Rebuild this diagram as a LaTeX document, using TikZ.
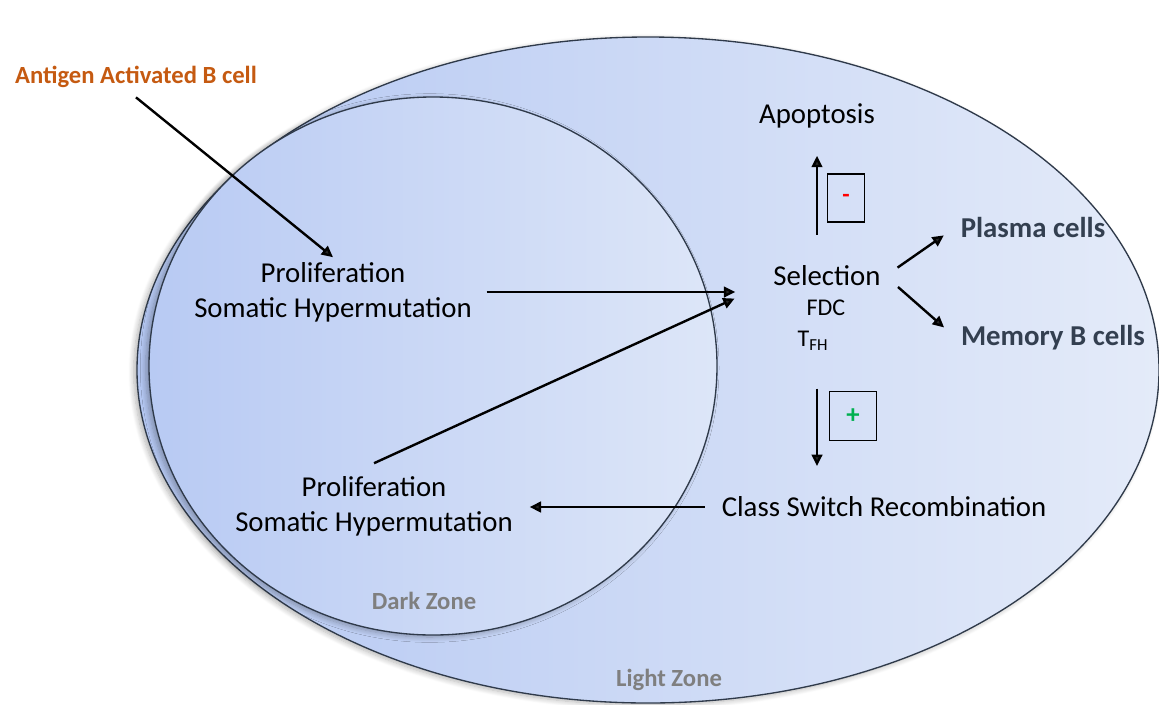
\documentclass[tikz,border=0pt]{standalone}
\usepackage{fontspec}
\setmainfont{Carlito}
\usetikzlibrary{arrows.meta,shadows.blur}

\definecolor{zoneleft}{RGB}{180,199,242}
\definecolor{zoneright}{RGB}{228,235,249}
\definecolor{darkleft}{RGB}{184,202,243}
\definecolor{darkright}{RGB}{221,230,248}
\definecolor{rimcol}{RGB}{47,58,74}
\definecolor{antigencol}{RGB}{197,90,17}
\definecolor{fatecol}{RGB}{51,63,80}
\definecolor{zonetext}{RGB}{127,127,127}
\definecolor{pluscol}{RGB}{0,176,80}

\newcommand\mainsize{\fontsize{21.6}{26.3}\selectfont}

\tikzset{every picture/.style={line width=0.75pt}}
\tikzset{
  txt/.style={font=\mainsize, align=center},
  fate/.style={font=\mainsize\bfseries, text=fatecol},
  zonelabel/.style={font=\fontsize{18.5}{22}\selectfont\bfseries, text=zonetext},
  signbox/.style={draw, line width=1.2pt, inner sep=0pt},
  arr/.style={line width=1.8pt, -{Triangle[length=8.5pt,width=8pt]}},
  zoneshadow/.style={blur shadow={shadow xshift=-2.5pt, shadow yshift=-1.5pt, shadow opacity=30, shadow blur radius=4pt, shadow blur steps=8}},
}

\begin{document}
\begin{tikzpicture}[x=0.75pt,y=0.75pt,yscale=-1,xscale=1]
\useasboundingbox (0,0) rectangle (1159,704);

% light zone
\path [zoneshadow] [draw=rimcol, line width=1pt, left color=zoneleft, right color=zoneright] (648,370) ellipse [x radius=511, y radius=333];
% dark zone
\path [zoneshadow] [draw=rimcol, line width=1pt, left color=darkleft, right color=darkright] (433,366) ellipse [x radius=284, y radius=269];

% labels
\node [font=\fontsize{18.5}{22}\selectfont\bfseries, text=antigencol] (antigen) at (136,77) {Antigen Activated B cell};
\node [txt] (prolifA) at (333,292) {Proliferation\\Somatic Hypermutation};
\node [txt] (prolifB) at (374,506) {Proliferation\\Somatic Hypermutation};
\node [txt] (apop) at (817,116) {Apoptosis};
\node [txt] (select) at (827,276) {Selection};
\node [font=\fontsize{18}{22}\selectfont] (fdc) at (826,308) {FDC};
\node [font=\fontsize{18}{22}\selectfont] (tfh) at (813,341) {T\textsubscript{FH}};
\node [txt] (csr) at (884,507) {Class Switch Recombination};
\node [fate] (plasma) at (1033,227) {Plasma cells};
\node [fate] (memory) at (1053,338) {Memory B cells};
\node [zonelabel] (dark) at (424,601) {Dark Zone};
\node [zonelabel] (light) at (669,680) {Light Zone};

% boxes beside the vertical arrows
\node [signbox, minimum width=27.75pt, minimum height=36pt, text=red, font=\bfseries\fontsize{18}{20}\selectfont] (minus) at (846,198) {-};
\node [signbox, minimum width=35.25pt, minimum height=36.75pt, text=pluscol, font=\bfseries\fontsize{20}{22}\selectfont] (plus) at (853,416) {+};

% arrows
\draw [arr] ([yshift=3.5pt]antigen.south) -- (prolifA.north);
\draw [arr, shorten <=7.5pt, shorten >=25pt] (prolifA.east) -- (select.west |- prolifA.east);
\draw [arr, shorten >=28pt] ([yshift=-6pt]prolifB.north) -- ([yshift=-6pt]select.south west);
\draw [arr, shorten >=9pt] ([xshift=-9pt]csr.west) -- (csr.west -| prolifB.east);
\draw [arr, shorten <=19.5pt, shorten >=17pt] (apop.south |- select.north) -- (apop.south);
\draw [arr, shorten <=25pt, shorten >=19.5pt] (apop.south |- tfh.south) -- (apop.south |- csr.north);
\draw [arr, shorten <=11pt, shorten >=11pt] (select.east) -- (plasma.west);
\draw [arr, shorten <=12.5pt, shorten >=12pt] (select.east) -- (memory.west);

\end{tikzpicture}
\end{document}
